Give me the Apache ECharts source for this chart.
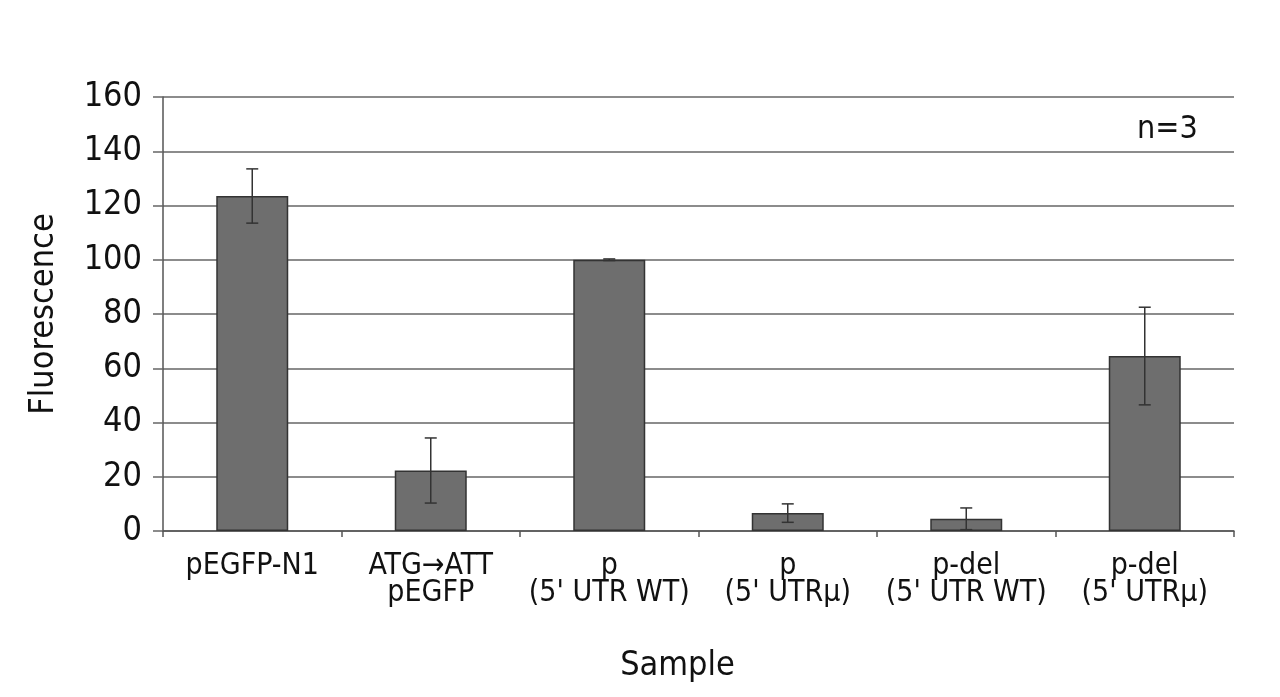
<!DOCTYPE html>
<html>
<head>
<meta charset="utf-8">
<script src="https://cdn.jsdelivr.net/npm/echarts@6/dist/echarts.min.js"></script>
<style>html,body{margin:0;padding:0;background:#fff}#c{width:1280px;height:697px}</style>
</head>
<body>
<div id="c"></div>
<script>
const categories = ['pEGFP-N1', 'ATG\u2192ATT\npEGFP', "p\n(5' UTR WT)", "p\n(5' UTR\u03bc)", "p-del\n(5' UTR WT)", "p-del\n(5' UTR\u03bc)"];
const values = [123.5, 22.3, 100, 6.6, 4.5, 64.5];
const errors = [10, 12, 0.3, 3.4, 4, 18];
const yTicks = [0, 20, 40, 60, 80, 100, 120, 140, 160];

const FONT = '"Liberation Sans Narrow", "DejaVu Sans Condensed", "Liberation Sans", sans-serif';
const chart = echarts.init(document.getElementById('c'), null, {renderer: 'canvas'});
chart.setOption({
  animation: false,
  backgroundColor: '#fff',
  grid: {left: 163, right: 46, top: 97, bottom: 166, containLabel: false},
  graphic: [{
    type: 'text', left: 1137, top: 114,
    style: {text: 'n=3', font: '32px ' + FONT, fill: '#111'}
  }],
  xAxis: {
    type: 'category', data: categories,
    name: 'Sample', nameLocation: 'middle', nameGap: 118,
    nameTextStyle: {fontFamily: FONT, fontSize: 34, color: '#111', padding: [0, 42, 0, 0]},
    axisLine: {lineStyle: {color: '#555', width: 1.5}},
    axisTick: {show: true, alignWithLabel: false, length: 6, lineStyle: {color: '#555', width: 1.5}},
    axisLabel: {fontFamily: FONT, fontSize: 30, color: '#111', margin: 22, lineHeight: 27, interval: 0}
  },
  yAxis: {
    type: 'value', min: 0, max: 160, interval: 20,
    name: 'Fluorescence', nameLocation: 'middle', nameGap: 102, nameRotate: 90,
    nameTextStyle: {fontFamily: FONT, fontSize: 34, color: '#111'},
    axisLine: {show: true, lineStyle: {color: '#555', width: 1.5}},
    axisTick: {show: true, length: 10, lineStyle: {color: '#666', width: 1.5}},
    axisLabel: {fontFamily: FONT, fontSize: 34, color: '#111', margin: 21,
      formatter: v => yTicks.includes(v) ? String(v) : ''},
    splitLine: {show: true, lineStyle: {color: '#666', width: 1.5}}
  },
  series: [{
    type: 'bar', data: values, barWidth: 72,
    itemStyle: {color: '#6e6e6e', borderColor: '#333', borderWidth: 1.5}
  }, {
    type: 'custom',
    data: categories.map((c, i) => [i, values[i], errors[i]]),
    renderItem: function (params, api) {
      const x = api.value(0), v = api.value(1), e = api.value(2);
      const hi = api.coord([x, v + e]);
      const lo = api.coord([x, v - e]);
      const w = 6;
      const st = {stroke: '#333', lineWidth: 1.5};
      return {type: 'group', children: [
        {type: 'line', shape: {x1: hi[0], y1: hi[1], x2: lo[0], y2: lo[1]}, style: st},
        {type: 'line', shape: {x1: hi[0] - w, y1: hi[1], x2: hi[0] + w, y2: hi[1]}, style: st},
        {type: 'line', shape: {x1: lo[0] - w, y1: lo[1], x2: lo[0] + w, y2: lo[1]}, style: st}
      ]};
    },
    z: 5
  }]
});
</script>
</body>
</html>
